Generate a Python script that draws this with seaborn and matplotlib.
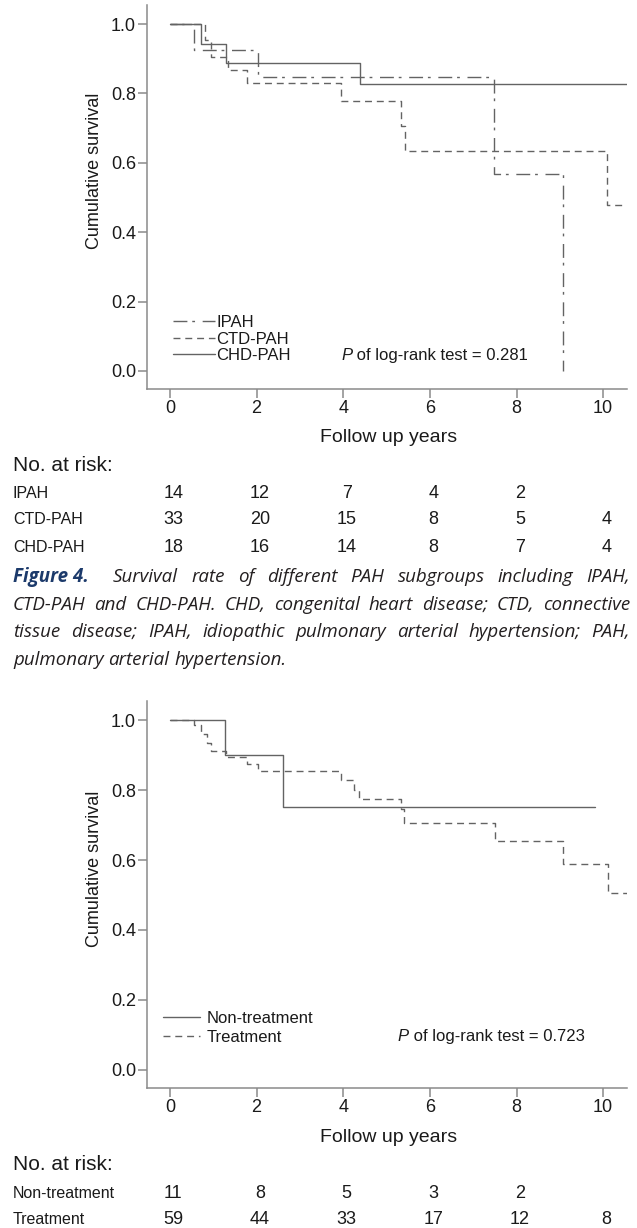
import numpy as np
import pandas as pd
import matplotlib
matplotlib.use("Agg")
import matplotlib.pyplot as plt
import seaborn as sns
from matplotlib.transforms import blended_transform_factory

# ---------------- data ----------------
top_groups = ["IPAH", "CTD-PAH", "CHD-PAH"]
ipah_time = [0.0, 0.55, 2.04, 7.49, 9.07]
ipah_surv = [1.0, 0.925, 0.846, 0.567, 0.0]
ctd_time = [0.0, 0.82, 0.94, 1.33, 1.78, 3.94, 5.33, 5.43, 10.08, 10.6]
ctd_surv = [1.0, 0.955, 0.905, 0.867, 0.829, 0.779, 0.706, 0.635, 0.478, 0.478]
chd_time = [0.0, 0.71, 1.29, 4.39, 10.6]
chd_surv = [1.0, 0.944, 0.889, 0.826, 0.826]

bot_groups = ["Non-treatment", "Treatment"]
nontreat_time = [0.0, 1.27, 2.60, 9.82]
nontreat_surv = [1.0, 0.90, 0.751, 0.751]
treat_time = [0.0, 0.55, 0.71, 0.86, 0.94, 1.29, 1.78, 2.04, 3.94, 4.25, 4.37,
              5.33, 5.41, 7.51, 9.08, 10.12, 10.6]
treat_surv = [1.0, 0.985, 0.96, 0.935, 0.911, 0.895, 0.875, 0.854, 0.829, 0.80,
              0.775, 0.745, 0.705, 0.654, 0.589, 0.507, 0.507]

risk_years = [0, 2, 4, 6, 8, 10]
ipah_risk = [14, 12, 7, 4, 2]
ctd_risk = [33, 20, 15, 8, 5, 4]
chd_risk = [18, 16, 14, 8, 7, 4]
nontreat_risk = [11, 8, 5, 3, 2]
treat_risk = [59, 44, 33, 17, 12, 8]

p_top = "0.281"
p_bot = "0.723"

x_ticks = [0, 2, 4, 6, 8, 10]
y_ticks = [0.0, 0.2, 0.4, 0.6, 0.8, 1.0]

caption_lines = [
    "Survival rate of different PAH subgroups including IPAH,",
    "CTD-PAH and CHD-PAH. CHD, congenital heart disease; CTD, connective",
    "tissue disease; IPAH, idiopathic pulmonary arterial hypertension; PAH,",
    "pulmonary arterial hypertension.",
]
caption_head = "Figure 4."

# ---------------- style ----------------
sns.set_theme(style="white")
plt.rcParams["font.family"] = ["Liberation Sans", "DejaVu Sans"]

W, H = 637, 1228
fig = plt.figure(figsize=(W / 100, H / 100), dpi=100, facecolor="white")

LINE = "#636363"
SPINE = "#8a8a8a"
TXT = "#1a1a1a"
AX_LEFT, AX_RIGHT = 147, 627
XMIN, XMAX = -0.53, 10.55


def fy(px):
    return 1 - px / H


def fx(px):
    return px / W


def make_axes(top_px, bottom_px):
    ax = fig.add_axes([fx(AX_LEFT), fy(bottom_px), (AX_RIGHT - AX_LEFT) / W,
                       (bottom_px - top_px) / H])
    ax.set_xlim(XMIN, XMAX)
    ax.set_ylim(-0.052, 1.055)
    sns.despine(ax=ax)
    for s in ("left", "bottom"):
        ax.spines[s].set_color(SPINE)
        ax.spines[s].set_linewidth(1.1)
    ax.set_facecolor("white")
    ax.grid(False)
    return ax


def finish_axes(ax, bottom_px, top_px, xlab_px):
    ax.set_xticks(x_ticks)
    ax.set_xticklabels([str(v) for v in x_ticks])
    ax.set_yticks(y_ticks)
    ax.set_yticklabels([f"{v:.1f}" for v in y_ticks])
    ax.tick_params(axis="both", direction="out", length=6.5, width=1.1, color=SPINE,
                   labelsize=13, labelcolor=TXT, pad=1.5, left=True, bottom=True)
    ax.set_ylabel("Cumulative survival", fontsize=13, color=TXT)
    ax.set_xlabel("Follow up years", fontsize=14, color=TXT)
    ax.yaxis.label.set_va("center")
    ax.xaxis.label.set_va("center")
    h = bottom_px - top_px
    ax.yaxis.set_label_coords((95 - AX_LEFT) / (AX_RIGHT - AX_LEFT), 0.567)
    ax.xaxis.set_label_coords((389 - AX_LEFT) / (AX_RIGHT - AX_LEFT), -(xlab_px - bottom_px) / h)


def km_frame(times, survs, names):
    rows = []
    for t, s, n in zip(times, survs, names):
        rows.append(pd.DataFrame({"time": t, "surv": s, "group": n}))
    return pd.concat(rows, ignore_index=True)


dash_dot = (10, 3.5, 2, 5.5)
dashed = (5, 3.5)

# ---------------- top chart ----------------
ax1 = make_axes(5, 389)
df1 = km_frame([ipah_time, ctd_time, chd_time], [ipah_surv, ctd_surv, chd_surv], top_groups)
sns.lineplot(data=df1, x="time", y="surv", hue="group", style="group",
             hue_order=top_groups, style_order=top_groups,
             palette={g: LINE for g in top_groups},
             dashes={"IPAH": dash_dot, "CTD-PAH": dashed, "CHD-PAH": ""},
             estimator=None, sort=False, drawstyle="steps-post", linewidth=1.0,
             legend=False, ax=ax1)
finish_axes(ax1, 389, 5, 437)
lines1 = ax1.get_lines()[:3]
ax1.legend(lines1, top_groups, loc="center left", bbox_to_anchor=(0.054, 0.130),
           frameon=False, fontsize=12, handlelength=2.5, handletextpad=0.1,
           labelspacing=0.08, borderpad=0, borderaxespad=0, labelcolor=TXT)
t1 = ax1.text(3.95, 0.046, "P", style="italic", fontsize=12, va="center", ha="left", color=TXT)
ax1.annotate(f" of log-rank test = {p_top}", xy=(1, 0.5), xycoords=t1, va="center",
             ha="left", fontsize=12, color=TXT)

# ---------------- bottom chart ----------------
ax2 = make_axes(701, 1088)
df2 = km_frame([nontreat_time, treat_time], [nontreat_surv, treat_surv], bot_groups)
sns.lineplot(data=df2, x="time", y="surv", hue="group", style="group",
             hue_order=bot_groups, style_order=bot_groups,
             palette={g: LINE for g in bot_groups},
             dashes={"Non-treatment": "", "Treatment": dashed},
             estimator=None, sort=False, drawstyle="steps-post", linewidth=1.0,
             legend=False, ax=ax2)
finish_axes(ax2, 1088, 701, 1137)
lines2 = ax2.get_lines()[:2]
ax2.legend(lines2, bot_groups, loc="center left", bbox_to_anchor=(0.033, 0.156),
           frameon=False, fontsize=12, handlelength=2.2, handletextpad=0.4,
           labelspacing=0.24, borderpad=0, borderaxespad=0, labelcolor=TXT)
t2 = ax2.text(5.25, 0.094, "P", style="italic", fontsize=12, va="center", ha="left", color=TXT)
ax2.annotate(f" of log-rank test = {p_bot}", xy=(1, 0.5), xycoords=t2, va="center",
             ha="left", fontsize=12, color=TXT)


# ---------------- at-risk tables ----------------
def risk_table(ax, title_y, rows):
    tr = blended_transform_factory(ax.transData, fig.transFigure)
    fig.text(fx(13), fy(title_y), "No. at risk:", fontsize=15, va="center", ha="left", color=TXT)
    for label, y, vals in rows:
        fig.text(fx(13), fy(y), label, fontsize=11.5, va="center", ha="left", color=TXT)
        for yr, v in zip(risk_years, vals):
            ax.text(yr + 0.08, fy(y), str(v), transform=tr, fontsize=13, va="center",
                    ha="center", color=TXT, clip_on=False)


risk_table(ax1, 466, [("IPAH", 493, ipah_risk), ("CTD-PAH", 520, ctd_risk),
                      ("CHD-PAH", 547, chd_risk)])
risk_table(ax2, 1165, [("Non-treatment", 1193, nontreat_risk),
                       ("Treatment", 1220, treat_risk)])

# ---------------- caption (justified) ----------------
fig.canvas.draw()
renderer = fig.canvas.get_renderer()
cap_font = dict(family=["Open Sans", "DejaVu Sans"], style="italic", fontsize=13.5)
cap_color = "#231f20"
head_color = "#1c3a6b"


def width_px(s, **kw):
    t = fig.text(0, 0, s, **kw)
    w = t.get_window_extent(renderer).width
    t.remove()
    return w


L, R = 13, 630
line_ys = [577, 605, 632, 660]

fig.text(fx(L), fy(line_ys[0]), caption_head, weight="bold", color=head_color,
         va="center", ha="left", **cap_font)

space_w = width_px("a b", **cap_font) - width_px("ab", **cap_font)
for i, (line, y) in enumerate(zip(caption_lines, line_ys)):
    words = line.split(" ")
    start = 113 if i == 0 else L
    widths = [width_px(w, **cap_font) for w in words]
    if i < len(caption_lines) - 1 and len(words) > 1:
        gap = (R - start - sum(widths)) / (len(words) - 1)
    else:
        gap = space_w
    x = start
    for w, wd in zip(words, widths):
        fig.text(fx(x), fy(y), w, color=cap_color, va="center", ha="left", **cap_font)
        x += wd + gap

fig.savefig("out.png", dpi=100, facecolor="white")
